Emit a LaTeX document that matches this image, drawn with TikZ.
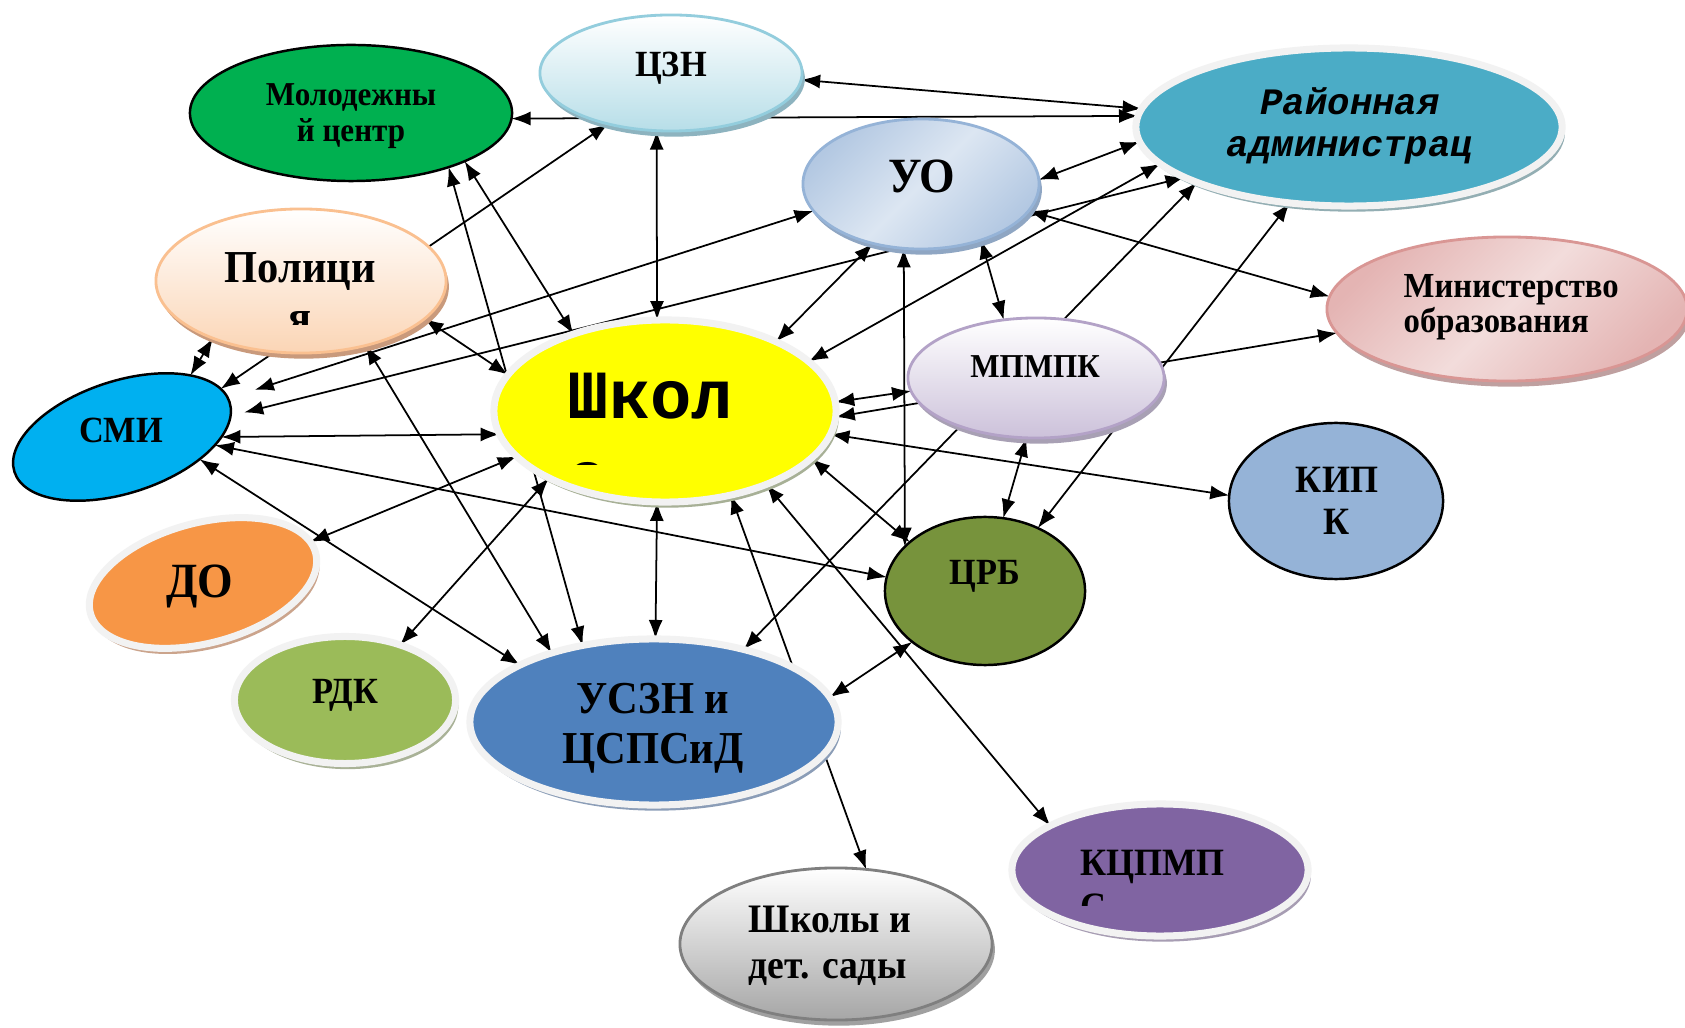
\documentclass[tikz,border=0pt]{standalone}
\usepackage{fontspec}
\setmainfont{Liberation Serif}[FakeStretch=0.93]
\newfontfamily\courfam{Liberation Mono}
\usetikzlibrary{shapes.geometric,arrows.meta,shadows,backgrounds,calc}

\definecolor{rimgray}{HTML}{F2F2F2}
\definecolor{molgreen}{HTML}{00B050}
\definecolor{raiteal}{HTML}{4BACC6}
\definecolor{raishadow}{HTML}{93AEB3}
\definecolor{cznblue}{HTML}{B7DEE8}
\definecolor{cznline}{HTML}{93CDDD}
\definecolor{cznshadow}{HTML}{8DB3BF}
\definecolor{uodark}{HTML}{B3C8E2}
\definecolor{uolight}{HTML}{DCE6F2}
\definecolor{uoline}{HTML}{95B3D7}
\definecolor{uoshadow}{HTML}{8FA6C3}
\definecolor{polpeach}{HTML}{FBD5B5}
\definecolor{polline}{HTML}{FAC090}
\definecolor{polshadow}{HTML}{C99A7C}
\definecolor{mindark}{HTML}{E4B4B3}
\definecolor{minlight}{HTML}{F2DCDB}
\definecolor{minline}{HTML}{D99694}
\definecolor{minshadow}{HTML}{BFA0A0}
\definecolor{mpmlilac}{HTML}{CCC1DA}
\definecolor{mpmline}{HTML}{B3A2C7}
\definecolor{mpmshadow}{HTML}{A8A0B4}
\definecolor{smicyan}{HTML}{00B0F0}
\definecolor{shkyellow}{HTML}{FFFF00}
\definecolor{shkshadow}{HTML}{A7B096}
\definecolor{kipblue}{HTML}{95B3D7}
\definecolor{doborange}{HTML}{F79646}
\definecolor{dobshadow}{HTML}{CBA48C}
\definecolor{crbolive}{HTML}{77933C}
\definecolor{rdkgreen}{HTML}{9BBB59}
\definecolor{rdkshadow}{HTML}{A9B297}
\definecolor{uszblue}{HTML}{4F81BD}
\definecolor{uszshadow}{HTML}{8B9DB7}
\definecolor{sdsgray}{HTML}{A6A6A6}
\definecolor{sdsline}{HTML}{7F7F7F}
\definecolor{sdsshadow}{HTML}{A0A0A0}
\definecolor{kcppurple}{HTML}{8064A2}
\definecolor{kcpshadow}{HTML}{A79DB3}

\newcommand\lblfont[2]{\fontsize{#1}{#2}\selectfont\bfseries}

\begin{document}
\begin{tikzpicture}[x=0.01cm, y=-0.01cm,
	blob/.style={ellipse, inner sep=0pt, outer sep=0pt},
	rimmed/.style={blob, draw=rimgray, line width=2pt, drop shadow={shadow xshift=0.8pt, shadow yshift=-1.6pt, fill=#1, opacity=1}},
	glossy/.style={blob, line width=0.8pt, drop shadow={shadow xshift=0.8pt, shadow yshift=-1.6pt, fill=#1, opacity=1}},
	plain/.style={blob, draw=black, line width=0.7pt},
	lbl/.style={inner sep=0pt, anchor=base, align=center},
	link/.style={{Latex[length=5.4pt,width=4pt]}-{Latex[length=5.4pt,width=4pt]}, line width=0.5pt}]
	\useasboundingbox (0,0) rectangle (1685,1028);

	\node[glossy=cznshadow, draw=cznline, top color=white, bottom color=cznblue, minimum width=2.62cm, minimum height=1.16cm] (czn) at (671,73) {};
	\node[plain, fill=molgreen, minimum width=3.22cm, minimum height=1.36cm] (mol) at (351,113) {};
	\node[rimmed=raishadow, fill=raiteal, minimum width=4.26cm, minimum height=1.58cm] (rai) at (1349,127) {};
	\node[glossy=uoshadow, draw=uoline, left color=uodark, right color=uodark, middle color=uolight, shading angle=45, minimum width=2.36cm, minimum height=1.30cm] (uo) at (921,184) {};
	\node[glossy=polshadow, draw=polline, top color=white, bottom color=polpeach, minimum width=2.90cm, minimum height=1.44cm] (pol) at (301,281) {};
	\node[glossy=minshadow, draw=minline, left color=mindark, right color=mindark, middle color=minlight, shading angle=45, minimum width=3.60cm, minimum height=1.44cm] (min) at (1507,309) {};
	\node[glossy=mpmshadow, draw=mpmline, top color=white, bottom color=mpmlilac, minimum width=2.56cm, minimum height=1.20cm] (mpm) at (1036,378) {};
	\node[plain, fill=smicyan, rotate=18, minimum width=2.26cm, minimum height=1.12cm] (smi) at (122,437) {};
	\node[rimmed=shkshadow, fill=shkyellow, minimum width=3.42cm, minimum height=1.82cm] (shk) at (665,411) {};
	\node[plain, fill=kipblue, minimum width=2.14cm, minimum height=1.56cm] (kip) at (1336,501) {};
	\node[rimmed=dobshadow, fill=doborange, rotate=15, minimum width=2.33cm, minimum height=1.20cm] (dob) at (203,583) {};
	\node[plain, fill=crbolive, minimum width=2.00cm, minimum height=1.48cm] (crb) at (985,591) {};
	\node[rimmed=rdkshadow, fill=rdkgreen, minimum width=2.21cm, minimum height=1.27cm] (rdk) at (345,700) {};
	\node[rimmed=uszshadow, fill=uszblue, minimum width=3.68cm, minimum height=1.66cm] (usz) at (654,722) {};
	\node[glossy=sdsshadow, draw=sdsline, top color=white, bottom color=sdsgray, minimum width=3.12cm, minimum height=1.52cm] (sds) at (836,944) {};
	\node[rimmed=kcpshadow, fill=kcppurple, minimum width=2.96cm, minimum height=1.32cm] (kcp) at (1160,870) {};

	\node[lbl, font=\lblfont{10.5}{12}] (czn-t) at (671,77) {ЦЗН};
	\node[lbl, font=\lblfont{9.5}{10.5}] (mol-t) at (351,142) {Молодежны\\й центр};
	\node[lbl, font=\courfam\fontsize{10.6}{12}\selectfont\bfseries\itshape] (rai-t) at (1350,157) {Районная\\администрац};
	\node[lbl, font=\lblfont{14}{16}] (uo-t) at (922,193) {УО};
	\begin{scope}
		\clip ($(pol)+(-150,-80)$) rectangle ($(pol)+(150,44)$);
		\node[lbl, font=\lblfont{13}{14.5}] (pol-t) at (300,333) {Полици\\я};
	\end{scope}
	\node[lbl, anchor=base west, align=left, font=\lblfont{10}{10.2}] (min-t) at (1403,333) {Министерство\\образования};
	\node[lbl, font=\lblfont{9.5}{11}] (mpm-t) at (1035,378) {МПМПК};
	\node[lbl, font=\lblfont{10.5}{12}] (smi-t) at (121,443) {СМИ};
	\begin{scope}
		\clip ($(shk)+(-170,-90)$) rectangle ($(shk)+(170,54)$);
		\node[lbl, anchor=base west, align=left, font=\courfam\fontsize{19.6}{23.2}\selectfont\bfseries] (shk-t) at (567,500) {Школ\\а};
	\end{scope}
	\node[lbl, font=\lblfont{11}{12.2}] (kip-t) at (1337,535) {КИП\\К};
	\node[lbl, font=\lblfont{14}{16}] (dob-t) at (200,597) {ДО};
	\node[lbl, font=\lblfont{10.5}{12}] (crb-t) at (985,585) {ЦРБ};
	\node[lbl, font=\lblfont{10.5}{12}] (rdk-t) at (345,703) {РДК};
	\node[lbl, font=\lblfont{13}{14.2}] (usz-t) at (653,763) {УСЗН и\\ЦСПСиД};
	\node[lbl, anchor=base west, align=left, font=\lblfont{11.5}{12.8}] (sds-t) at (748,978) {Школы и\\дет. сады};
	\begin{scope}
		\clip ($(kcp)+(-150,-70)$) rectangle ($(kcp)+(150,35)$);
		\node[lbl, anchor=base west, align=left, font=\lblfont{11}{12.5}] (kcp-t) at (1080,919) {КЦПМП\\С};
	\end{scope}

	\begin{scope}[on background layer]
		\fill[white] (0,0) rectangle (1685,1028);
		\foreach \a/\b in {czn.-3/rai.175, mol.-2/rai.177, czn.-104/shk.95, smi.8/czn.-141,
			mol.-29/usz.133, mol.-23/shk.140, pol.-147/smi.24, pol.-17/shk.167, pol.-45/usz.146,
			smi.-18/shk.-172, smi.-23/crb.172, smi.-34/usz.157, dob.6/shk.-163, rdk.45/shk.-150,
			shk.-95/usz.89, uo.-129/shk.32, rai.-169/shk.19, mpm.-174/shk.3, shk.-2/min.-172,
			shk.-8/kip.177, shk.-18/crb.147, shk.-36/kcp.158, shk.-52/sds.68, usz.8/crb.-145,
			usz.39/rai.-160, crb.50/rai.-128, uo.-105/crb.151, uo.-43/mpm.119, uo.2/rai.-176,
			uo.-14/min.176, mpm.-99/crb.76}
			\draw[link] (\a) -- (\b);
		\draw[link, shorten <=8pt] (smi.2) -- (uo.-166);
		\draw[link, shorten <=4pt] (smi.-7) -- (rai.-163);
	\end{scope}
\end{tikzpicture}
\end{document}
